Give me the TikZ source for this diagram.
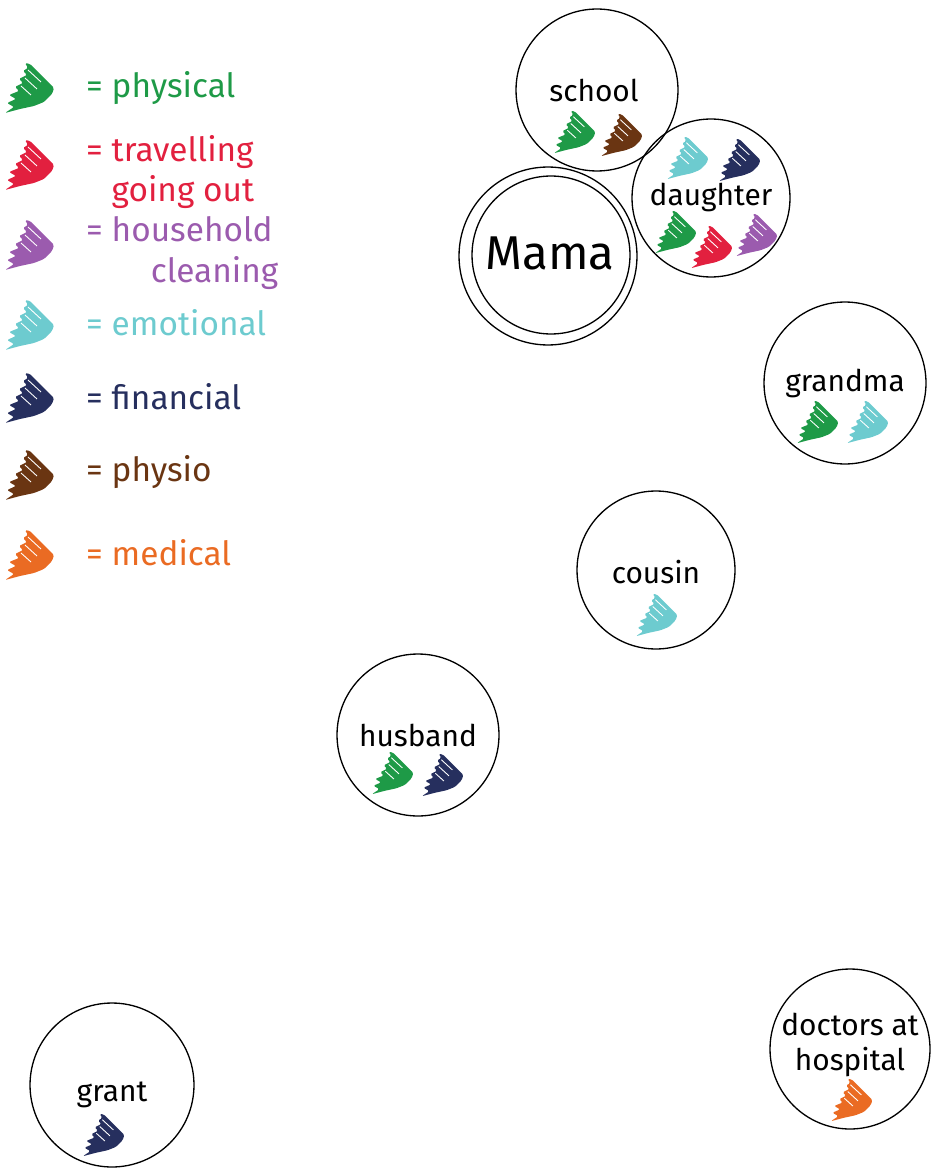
\documentclass[tikz,border=0pt]{standalone}
\usepackage{fontspec}
\setmainfont{Fira Sans}
\definecolor{physical}{HTML}{1E9A47}
\definecolor{travel}{HTML}{E2203F}
\definecolor{household}{HTML}{9B5BAE}
\definecolor{emotional}{HTML}{6DCBCF}
\definecolor{financial}{HTML}{262F5E}
\definecolor{physio}{HTML}{6A3512}
\definecolor{medical}{HTML}{EA6B23}
\tikzset{ring/.style={circle, draw=black, line width=0.75pt, minimum size=#1},
        tag/.style={font=\fontsize{17}{20}\selectfont},
        key/.style={anchor=west, align=left, font=\fontsize{19}{23}\selectfont, text=#1},
        pics/scribble/.style={code={
            \fill[#1, rounded corners=0.8pt] (-5,-25) -- (0,-24) -- (24,0) -- (22,6) -- (14,14)
                -- (4,18) -- (-10,21) -- (-25,25) -- (-16,19) -- (-23,15) -- (-14,11)
                -- (-21,7) -- (-11,3) -- (-15,-1) -- (-7,-5) -- (-11,-9) -- (-3,-13)
                -- (-7,-17) -- (-2,-20) -- cycle;
            \draw[white, line width=0.5pt] (-2,-18) -- (11,-6) (-5,-10) -- (7,1) (-9,-2) -- (1,7);
        }},
        }

\begin{document}
\begin{tikzpicture}[x=0.02cm, y=-0.02cm]
    \useasboundingbox (0,0) rectangle (930,1169);

    % legend
    \pic at (30,88) {scribble=physical};
    \node[key=physical] (k-physical) at (80,88) {= physical};
    \pic at (30,165) {scribble=travel};
    \node[key=travel] (k-travel) at (80,172) {= travelling\\\phantom{= }going out};
    \pic at (30,245) {scribble=household};
    \node[key=household] (k-household) at (80,253) {= household\\\phantom{= ho}cleaning};
    \pic at (30,325) {scribble=emotional};
    \node[key=emotional] (k-emotional) at (80,323) {= emotional};
    \pic at (30,398) {scribble=financial};
    \node[key=financial] (k-financial) at (80,397) {= financial};
    \pic at (30,475) {scribble=physio};
    \node[key=physio] (k-physio) at (80,472) {= physio};
    \pic at (30,555) {scribble=medical};
    \node[key=medical] (k-medical) at (80,553) {= medical};

    % people and places
    \node[ring=3.24cm] (school) at (597,90) {};
    \node[tag] (school-t) at (594,90) {school};
    \pic[scale=0.85] at (575,132) {scribble=physical};
    \pic[scale=0.85] at (622,135) {scribble=physio};

    \node[ring=3.56cm] (mama) at (548,256) {};
    \node[ring=3.16cm] (mama-in) at (551,255) {};
    \node[font=\fontsize{27}{30}\selectfont] (mama-t) at (550,253) {Mama};

    \node[ring=3.16cm] (daughter) at (711,198) {};
    \node[tag] (daughter-t) at (711,197) {daughter};
    \pic[scale=0.85] at (688,158) {scribble=emotional};
    \pic[scale=0.85] at (740,160) {scribble=financial};
    \pic[scale=0.85] at (676,232) {scribble=physical};
    \pic[scale=0.85] at (712,247) {scribble=travel};
    \pic[scale=0.85] at (757,235) {scribble=household};

    \node[ring=3.24cm] (grandma) at (845,383) {};
    \node[tag] (grandma-t) at (845,383) {grandma};
    \pic[scale=0.85] at (818,422) {scribble=physical};
    \pic[scale=0.85] at (868,422) {scribble=emotional};

    \node[ring=3.16cm] (cousin) at (656,570) {};
    \node[tag] (cousin-t) at (656,572) {cousin};
    \pic[scale=0.85] at (657,615) {scribble=emotional};

    \node[ring=3.24cm] (husband) at (418,735) {};
    \node[tag] (husband-t) at (418,735) {husband};
    \pic[scale=0.85] at (393,773) {scribble=physical};
    \pic[scale=0.85] at (443,775) {scribble=financial};

    \node[ring=3.28cm] (grant) at (112,1085) {};
    \node[tag] (grant-t) at (112,1095) {grant};
    \pic[scale=0.85] at (104,1135) {scribble=financial};

    \node[ring=3.2cm] (doctors) at (850,1049) {};
    \node[tag, align=center] (doctors-t) at (850,1045) {doctors at\\hospital};
    \pic[scale=0.85] at (852,1100) {scribble=medical};

\end{tikzpicture}
\end{document}
